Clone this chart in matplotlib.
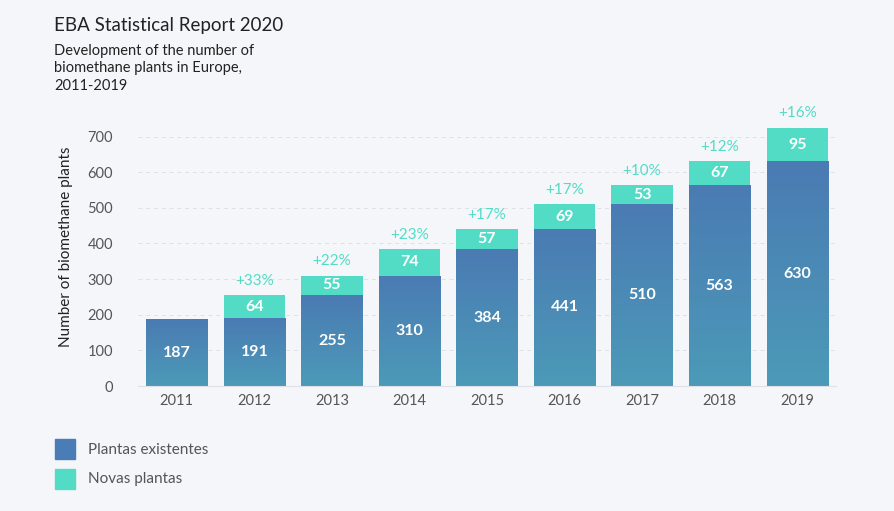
import numpy as np
import matplotlib
matplotlib.use("Agg")
import matplotlib.pyplot as plt
from matplotlib.colors import LinearSegmentedColormap
from matplotlib.patches import Rectangle

plt.rcParams['font.family'] = ['Lato', 'DejaVu Sans']

years = ["2011", "2012", "2013", "2014", "2015", "2016", "2017", "2018", "2019"]
existing = [187, 191, 255, 310, 384, 441, 510, 563, 630]
new = [0, 64, 55, 74, 57, 69, 53, 67, 95]
growth = ["", "+33%", "+22%", "+23%", "+17%", "+17%", "+10%", "+12%", "+16%"]

BG = "#f5f6fa"
BLUE_TOP = "#4a7bb3"
BLUE_BOT = "#4c9ab8"
TEAL = "#52dcc6"
GREY = "#555555"

fig = plt.figure(figsize=(8.94, 5.11), dpi=100, facecolor=BG)
ax = fig.add_axes([138/894, (511-386)/511, 698/894, 278/511], facecolor=BG)

x = np.arange(len(years))
w = 0.79
ymax = 780

# gradient for existing plants
cmap = LinearSegmentedColormap.from_list("g", [BLUE_BOT, BLUE_TOP])
grad = np.linspace(0, 1, 256).reshape(-1, 1)
base = ax.bar(x, existing, width=w, color="none", edgecolor="none", zorder=2)
for b in base:
    im = ax.imshow(grad, cmap=cmap, aspect="auto", origin="lower",
                   extent=[b.get_x(), b.get_x() + w, 0, b.get_height()],
                   zorder=2, vmin=0, vmax=1)
    im.set_clip_path(b)

ax.bar(x, new, bottom=existing, width=w, color=TEAL, edgecolor="none", zorder=2)

for i in range(len(years)):
    ax.text(x[i], existing[i] / 2, str(existing[i]), ha="center", va="center",
            color="white", fontsize=11.5, fontweight="bold", zorder=3)
    if new[i] > 0:
        ax.text(x[i], existing[i] + new[i] / 2, str(new[i]), ha="center", va="center",
                color="white", fontsize=11.5, fontweight="bold", zorder=3)
        ax.text(x[i], existing[i] + new[i] + 20, growth[i], ha="center", va="bottom",
                color=TEAL, fontsize=11, zorder=3)

ax.set_xlim(-0.5, len(years) - 0.5)
ax.set_ylim(0, ymax)
ax.set_xticks(x)
ax.set_xticklabels(years)
ax.set_yticks(range(0, 701, 100))
ax.tick_params(axis="both", length=0, colors=GREY, labelsize=10.5)
ax.tick_params(axis="y", pad=18)
ax.tick_params(axis="x", pad=6)
ax.grid(axis="y", color="#dfe1e8", linestyle=(0, (4, 4)), linewidth=0.7, zorder=0)
for s in ["top", "right", "left"]:
    ax.spines[s].set_visible(False)
ax.spines["bottom"].set_color("#dfe1e8")
ax.set_ylabel("Number of biomethane plants", fontsize=11, color="#222222", labelpad=10)

fig.text(54/894, 1 - 26/511, "EBA Statistical Report 2020", fontsize=13.5,
         color="#222222", va="center", ha="left")
fig.text(54/894, 1 - 44/511, "Development of the number of\nbiomethane plants in Europe,\n2011-2019",
         fontsize=10.5, color="#222222", va="top", ha="left", linespacing=1.3)

# legend
fig.patches.append(Rectangle((55/894, 1 - 459/511), 20/894, 20/511,
                             transform=fig.transFigure, color="#4a7db5"))
fig.patches.append(Rectangle((55/894, 1 - 489/511), 20/894, 20/511,
                             transform=fig.transFigure, color=TEAL))
fig.text(88/894, 1 - 450/511, "Plantas existentes", fontsize=11, color=GREY, va="center")
fig.text(88/894, 1 - 479/511, "Novas plantas", fontsize=11, color=GREY, va="center")

fig.savefig("out.png", dpi=100, facecolor=BG)
